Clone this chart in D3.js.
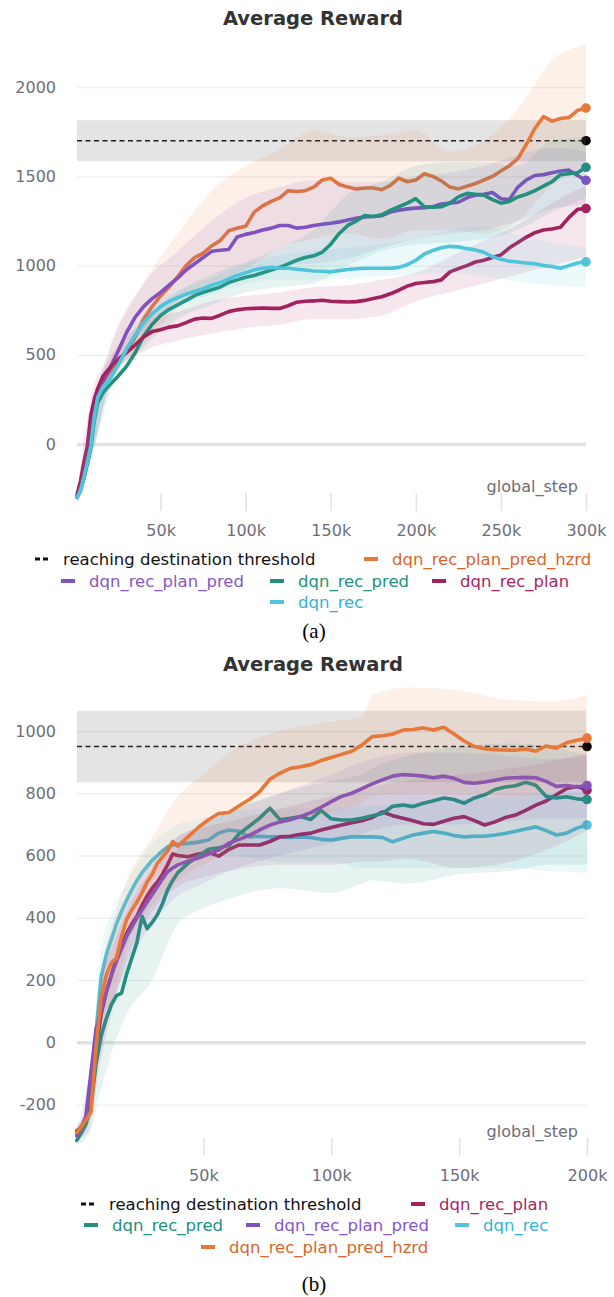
<!DOCTYPE html>
<html>
<head>
<meta charset="utf-8">
<script src="https://cdn.jsdelivr.net/npm/d3@7/dist/d3.min.js"></script>
<style>
  body { margin: 0; background: #fff; }
  svg { display: block; }
</style>
</head>
<body>
<svg id="fig" width="614" height="1297"></svg>
<script>
// ---------- Panel (a): 300k steps ----------
const aSteps = [1,3,5,7,9,11,13,16,20,25,30,35,40,45,50,55,60,65,70,75,80,85,90,95,100,105,110,115,120,125,130,135,140,145,150,155,160,165,170,175,180,185,190,195,200,205,210,215,220,225,230,235,240,245,250,255,260,265,270,275,280,285,290,295,300];
const aHzrd = [-290,-250,-185,-100,-10,150,265,345,405,
  460,520,600,700,770,830,880,937,1000,1045,
  1070,1110,1140,1195,1210,1220,1300,1335,1360,1380,
  1420,1415,1420,1440,1480,1490,1455,1440,1430,1435,
  1435,1425,1450,1490,1470,1480,1515,1500,1475,1440,
  1430,1445,1460,1480,1500,1530,1560,1600,1680,1770,
  1835,1810,1825,1830,1870,1883];
const aPlanPred = [-290,-245,-175,-90,0,160,270,350,420,
  520,625,710,770,815,850,890,930,975,1010,
  1045,1080,1086,1090,1160,1175,1185,1200,1210,1225,
  1225,1210,1215,1225,1232,1237,1245,1255,1265,1273,
  1275,1280,1300,1310,1318,1322,1325,1330,1345,1350,
  1355,1380,1395,1400,1410,1375,1370,1440,1480,1505,
  1510,1520,1530,1535,1505,1478];
const aPred = [-300,-260,-190,-110,-20,130,230,285,330,
  380,435,510,605,670,720,755,780,805,832,
  850,865,880,905,920,935,945,960,975,990,
  1010,1030,1045,1055,1075,1120,1180,1225,1250,1280,
  1275,1285,1310,1330,1350,1375,1330,1328,1330,1350,
  1385,1405,1400,1395,1370,1350,1360,1385,1400,1420,
  1445,1470,1510,1515,1520,1551];
const aPlan = [-280,-205,-100,-10,160,250,310,377,425,
  475,512,555,600,630,640,655,662,680,700,
  706,704,722,742,752,758,760,762,760,760,
  775,795,800,802,806,800,798,796,798,805,
  815,825,842,862,885,900,905,910,920,965,
  983,1000,1020,1030,1045,1060,1100,1130,1160,1185,
  1200,1205,1215,1270,1315,1320];
const aRec = [-300,-255,-185,-100,-10,150,260,320,360,
  440,530,610,680,730,770,800,820,840,855,
  870,890,905,925,945,960,975,985,990,985,
  985,980,975,970,968,965,972,978,982,985,
  985,985,985,990,1005,1030,1065,1085,1100,1108,
  1105,1095,1088,1075,1050,1035,1025,1020,1015,1010,
  1000,995,985,1000,1015,1021];

// spread bands (upper / lower envelope) for panel (a)
const aBandSteps = [1,10,20,40,60,80,100,120,140,160,180,200,220,240,260,280,300];
const aHzrdHi = [-280,180,520,900,1180,1420,1560,1650,1760,1720,1730,1760,1640,1700,1880,2150,2240];
const aHzrdLo = [-300,-40,330,560,760,900,980,1100,1150,1180,1150,1200,1200,1180,1250,1450,1550];
const aPlanPredHi = [-280,200,540,900,1080,1250,1380,1440,1480,1470,1470,1500,1520,1560,1620,1660,1640];
const aPlanPredLo = [-300,-40,340,640,800,880,960,1000,1010,1040,1100,1150,1180,1200,1250,1320,1340];
const aPredHi = [-290,170,380,690,850,950,1020,1100,1200,1400,1470,1560,1580,1580,1560,1700,1720];
const aPredLo = [-310,-60,280,540,700,780,850,880,900,1000,1080,1120,1130,1150,1200,1300,1380];
const aPlanHi = [-270,290,480,680,740,800,830,850,880,890,920,960,1050,1140,1230,1350,1450];
const aPlanLo = [-300,100,370,520,580,620,650,670,700,700,720,800,850,900,950,1000,1050];
const aRecHi = [-290,180,400,720,860,930,1010,1060,1080,1100,1120,1150,1200,1220,1170,1130,1100];
const aRecLo = [-310,-40,320,630,770,840,900,920,920,930,940,950,960,940,910,890,880];

const aThreshold = 1700;
const aThresholdBand = [1585, 1815];
const aYTicks = [0, 500, 1000, 1500, 2000];
const aXTicks = [50, 100, 150, 200, 250, 300];

// ---------- Panel (b): 200k steps ----------
const bSteps = [0.5,2,4,6,8,10,12,14,16,18,20,22,24,26,28,30,32,34,36,38,40,44,48,52,56,60,64,68,72,76,80,84,88,92,96,100,104,108,112,116,120,124,128,132,136,140,144,148,152,156,160,164,168,172,176,180,184,188,192,196,200];
const bHzrd = [-290,-275,-250,-225,-20,140,215,255,270,340,395,425,450,480,515,540,575,595,615,645,630,
  660,690,715,735,738,760,780,805,845,865,
  880,885,892,905,915,925,935,955,982,985,
  990,1003,1005,1010,1003,1012,990,968,950,943,
  940,939,938,942,935,952,945,962,970,977];
const bPlanPred = [-300,-280,-240,-100,40,100,160,215,260,300,340,370,400,425,450,475,500,525,548,560,570,
  582,592,605,618,640,652,665,682,698,708,
  715,725,738,755,773,790,800,815,830,843,
  855,860,858,855,850,855,848,835,832,836,
  842,848,850,851,850,838,822,825,820,825];
const bPred = [-315,-295,-265,-210,-70,20,75,120,150,158,220,270,320,405,365,385,410,445,490,520,545,
  575,598,620,625,632,670,695,720,752,715,
  720,725,716,745,718,714,714,720,728,735,
  758,762,757,768,776,785,780,768,785,795,
  812,820,824,835,826,790,785,789,782,780];
const bPlan = [-285,-275,-250,-200,-30,90,160,215,270,310,350,380,405,440,470,495,515,540,570,605,600,
  596,605,610,598,620,634,634,634,645,660,
  662,668,672,682,690,698,705,712,722,740,
  728,720,712,702,700,710,720,725,712,698,
  708,722,730,745,762,775,795,815,822,810];
const bRec = [-300,-278,-250,-180,30,210,280,330,380,420,457,490,520,545,565,585,600,615,628,634,636,
  639,643,650,672,682,678,660,662,660,660,
  658,660,658,652,650,655,660,660,660,658,
  644,655,666,672,677,672,664,660,662,662,
  666,671,678,685,692,680,666,672,688,698];

// spread bands for panel (b)
const bBandSteps = [0.5,5,10,15,20,30,40,50,60,80,100,112,116,130,150,170,185,200];
const bHzrdHi = [-270,-200,220,400,520,660,790,860,930,1000,1030,1045,1115,1140,1130,1100,1095,1115];
const bHzrdLo = [-310,-260,60,150,300,440,520,570,610,700,740,770,790,800,800,790,800,830];
const bPlanPredHi = [-280,-120,200,330,440,580,660,700,740,800,860,900,910,930,930,920,910,920];
const bPlanPredLo = [-320,-240,-20,140,240,380,470,510,550,600,640,670,680,700,700,710,720,720];
const bPredHi = [-300,-200,130,240,330,480,620,700,740,800,840,860,880,920,950,960,950,920];
const bPredLo = [-330,-300,-150,-10,90,200,380,430,460,495,480,510,520,510,540,550,570,570];
const bPlanHi = [-270,-180,180,320,420,560,660,690,710,750,790,810,820,840,860,880,900,930];
const bPlanLo = [-310,-290,-50,120,260,420,500,530,550,570,570,580,580,590,560,580,620,680];
const bRecHi = [-280,-180,300,430,510,640,700,720,740,750,750,760,760,770,780,790,800,810];
const bRecLo = [-320,-260,120,260,380,520,580,600,600,580,580,560,560,560,560,560,550,545];

const bThreshold = 950;
const bThresholdBand = [835, 1065];
const bYTicks = [-200, 0, 200, 400, 600, 800, 1000];
const bXTicks = [50, 100, 150, 200];

// ---------- styling ----------
const SANS = "'DejaVu Sans', sans-serif";
const SERIF = "'Liberation Serif', 'Times New Roman', serif";
const runs = {
  thr:      { label: 'reaching destination threshold', color: '#111111', text: '#111111' },
  hzrd:     { label: 'dqn_rec_plan_pred_hzrd', color: '#e8773a', text: '#d8652d' },
  planPred: { label: 'dqn_rec_plan_pred',      color: '#8151bf', text: '#8756c4' },
  pred:     { label: 'dqn_rec_pred',           color: '#22907e', text: '#23907e' },
  plan:     { label: 'dqn_rec_plan',           color: '#a3215f', text: '#a5265f' },
  rec:      { label: 'dqn_rec',                color: '#4fc4db', text: '#32b3d8' }
};

const svg = d3.select('#fig');

function drawPanel(p) {
  const left = 77, right = 586;
  const x = d3.scaleLinear().domain([0, p.xMax]).range([75.5, p.xRight]);
  const y = d3.scaleLinear().domain(p.yDomain).range(p.yRange);
  const g = svg.append('g');

  g.append('text')
    .attr('x', 313).attr('y', p.titleY)
    .attr('text-anchor', 'middle').attr('dominant-baseline', 'central')
    .style('font', `bold 19.5px ${SANS}`).attr('fill', '#333')
    .text('Average Reward');

  // horizontal grid + y labels
  const ya = g.append('g').attr('transform', `translate(${left},0)`)
    .call(d3.axisLeft(y).tickValues(p.yTicks).tickSize(-(right - left)).tickPadding(21).tickFormat(d => String(d)));
  ya.select('.domain').remove();
  ya.selectAll('.tick line')
    .attr('stroke', d => d === 0 ? '#e2e2e2' : '#efefef')
    .attr('stroke-width', d => d === 0 ? 3.5 : 1.3);
  ya.selectAll('.tick text').attr('fill', '#6e6e78').style('font', `16px ${SANS}`);

  // x ticks + labels
  const xa = g.append('g').attr('transform', `translate(0,${p.tickTop})`)
    .call(d3.axisBottom(x).tickValues(p.xTicks).tickSize(p.tickLen).tickFormat(d => d + 'k'));
  xa.select('.domain').remove();
  xa.selectAll('.tick line').attr('stroke', '#e2e2e2').attr('stroke-width', 1.5);
  xa.selectAll('.tick text').attr('dy', null).attr('y', p.labelBase - p.tickTop)
    .attr('fill', '#6e6e78').style('font', `16px ${SANS}`);

  g.append('text').attr('x', 578).attr('y', p.stepLabelBase)
    .attr('text-anchor', 'end').attr('fill', '#6e6e78').style('font', `16px ${SANS}`)
    .text('global_step');

  // threshold band, dashed line, end marker
  g.append('rect')
    .attr('x', left).attr('width', right - left)
    .attr('y', y(p.band[1])).attr('height', y(p.band[0]) - y(p.band[1]))
    .attr('fill', '#000').attr('fill-opacity', 0.105);
  g.append('line')
    .attr('x1', left).attr('x2', x(p.xMax))
    .attr('y1', y(p.threshold)).attr('y2', y(p.threshold))
    .attr('stroke', '#222').attr('stroke-width', 1.4).attr('stroke-dasharray', '5,3.5');
  g.append('circle').attr('cx', x(p.xMax)).attr('cy', y(p.threshold)).attr('r', 4.8).attr('fill', '#000');

  // runs: each one's band then its line
  p.series.forEach(s => {
    const c = runs[s.key].color;
    const bandPts = p.bandSteps.map((st, i) => ({ st, lo: s.lo[i], hi: s.hi[i] }));
    g.append('path').datum(bandPts)
      .attr('d', d3.area().x(d => x(d.st)).y0(d => y(d.lo)).y1(d => y(d.hi)).curve(d3.curveMonotoneX))
      .attr('fill', c).attr('fill-opacity', 0.11);
    const pts = p.steps.map((st, i) => ({ st, v: s.values[i] }));
    g.append('path').datum(pts)
      .attr('d', d3.line().x(d => x(d.st)).y(d => y(d.v)))
      .attr('fill', 'none').attr('stroke', c).attr('stroke-width', 3.6)
      .attr('stroke-linejoin', 'round').attr('stroke-linecap', 'round');
    const last = pts[pts.length - 1];
    g.append('circle').attr('cx', x(last.st)).attr('cy', y(last.v)).attr('r', 4.8).attr('fill', c);
  });

  // legend
  const lg = g.append('g');
  p.legend.forEach(item => {
    const r = runs[item.key];
    const ln = lg.append('line')
      .attr('x1', item.x).attr('x2', item.x + 14).attr('y1', item.y).attr('y2', item.y)
      .attr('stroke', r.color).attr('stroke-width', item.key === 'thr' ? 3 : 4);
    if (item.key === 'thr') ln.attr('stroke-dasharray', '5,3');
    lg.append('text').attr('x', item.x + 28).attr('y', item.y)
      .attr('dominant-baseline', 'central').attr('fill', r.text)
      .style('font', `16.5px ${SANS}`).text(r.label);
  });

  g.append('text').attr('x', 314).attr('y', p.captionY)
    .attr('text-anchor', 'middle').attr('dominant-baseline', 'central')
    .style('font', `21px ${SERIF}`).attr('fill', '#000').text(p.caption);
}

drawPanel({
  xMax: 300, xRight: 586, yDomain: [0, 2000], yRange: [444, 87.2],
  titleY: 18, yTicks: aYTicks, xTicks: aXTicks,
  tickTop: 493, tickLen: 18, labelBase: 536, stepLabelBase: 492,
  threshold: aThreshold, band: aThresholdBand,
  steps: aSteps, bandSteps: aBandSteps,
  series: [
    { key: 'hzrd', values: aHzrd, hi: aHzrdHi, lo: aHzrdLo },
    { key: 'planPred', values: aPlanPred, hi: aPlanPredHi, lo: aPlanPredLo },
    { key: 'pred', values: aPred, hi: aPredHi, lo: aPredLo },
    { key: 'plan', values: aPlan, hi: aPlanHi, lo: aPlanLo },
    { key: 'rec', values: aRec, hi: aRecHi, lo: aRecLo }
  ],
  legend: [
    { key: 'thr', x: 35, y: 559 }, { key: 'hzrd', x: 364, y: 559 },
    { key: 'planPred', x: 61, y: 581 }, { key: 'pred', x: 270, y: 581 }, { key: 'plan', x: 432, y: 581 },
    { key: 'rec', x: 270, y: 602 }
  ],
  captionY: 631, caption: '(a)'
});

drawPanel({
  xMax: 200, xRight: 587, yDomain: [0, 1000], yRange: [1042.3, 731],
  titleY: 664, yTicks: bYTicks, xTicks: bXTicks,
  tickTop: 1138, tickLen: 18, labelBase: 1181, stepLabelBase: 1137,
  threshold: bThreshold, band: bThresholdBand,
  steps: bSteps, bandSteps: bBandSteps,
  series: [
    { key: 'rec', values: bRec, hi: bRecHi, lo: bRecLo },
    { key: 'plan', values: bPlan, hi: bPlanHi, lo: bPlanLo },
    { key: 'pred', values: bPred, hi: bPredHi, lo: bPredLo },
    { key: 'planPred', values: bPlanPred, hi: bPlanPredHi, lo: bPlanPredLo },
    { key: 'hzrd', values: bHzrd, hi: bHzrdHi, lo: bHzrdLo }
  ],
  legend: [
    { key: 'thr', x: 81, y: 1204 }, { key: 'plan', x: 411, y: 1204 },
    { key: 'pred', x: 84, y: 1225 }, { key: 'planPred', x: 246, y: 1225 }, { key: 'rec', x: 455, y: 1225 },
    { key: 'hzrd', x: 201, y: 1247 }
  ],
  captionY: 1284, caption: '(b)'
});
</script>
</body>
</html>
